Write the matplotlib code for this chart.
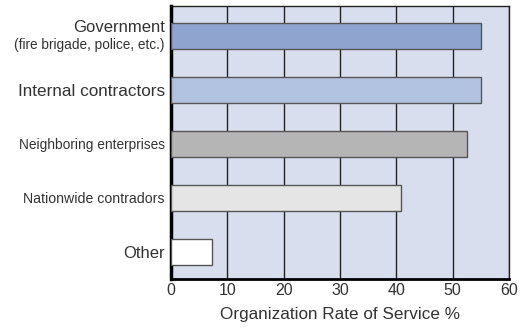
import matplotlib.pyplot as plt

# data
categories = ["Government", "Internal contractors", "Neighboring enterprises",
              "Nationwide contradors", "Other"]
sub_label = "(fire brigade, police, etc.)"
rates = [55.0, 55.0, 52.5, 40.8, 7.3]
bar_colors = ["#8FA5D0", "#B2C3E1", "#B5B5B5", "#E5E5E5", "#FFFFFF"]
label_sizes = [12.0, 12.3, 9.9, 10.2, 12.0]
xticks = [0, 10, 20, 30, 40, 50, 60]

plt.rcParams['font.family'] = ['Liberation Sans', 'DejaVu Sans']

fig = plt.figure(figsize=(5.23, 3.27), dpi=100)
ax = fig.add_axes([0.327, 0.147, 0.646, 0.835])
ax.set_facecolor("#D9DEEF")

ypos = list(range(len(categories)))
ax.barh(ypos, rates, height=0.48, color=bar_colors, edgecolor="#555555",
        linewidth=1.0, zorder=3)

ax.set_xlim(0, 60)
ax.set_ylim(4.5, -0.55)
ax.set_xticks(xticks)
ax.set_xticklabels([str(t) for t in xticks], fontsize=11.5, color="#333333")
ax.set_yticks(ypos)
# first category gets a two-line label drawn separately below
ax.set_yticklabels([""] + categories[1:], color="#333333")
for lbl, fs in zip(ax.get_yticklabels(), label_sizes):
    lbl.set_fontsize(fs)
ax.tick_params(axis='both', length=0)
ax.tick_params(axis='y', pad=4.5)
ax.tick_params(axis='x', pad=3)

trans = ax.get_yaxis_transform()
ax.annotate(categories[0], xy=(0, 0), xycoords=trans, xytext=(-4.5, 6),
            textcoords='offset points', ha='right', va='center',
            fontsize=label_sizes[0], color="#333333")
ax.annotate(sub_label, xy=(0, 0), xycoords=trans, xytext=(-4.5, -6.5),
            textcoords='offset points', ha='right', va='center',
            fontsize=9.8, color="#333333")

ax.grid(axis='x', color="#222222", linewidth=1.0, zorder=1)
ax.set_axisbelow(True)
for side in ['top', 'right']:
    ax.spines[side].set_linewidth(1.0)
    ax.spines[side].set_color("#222222")
ax.spines['left'].set_linewidth(2.5)
ax.spines['left'].set_color("black")
ax.spines['bottom'].set_linewidth(2.0)
ax.spines['bottom'].set_color("black")

ax.set_xlabel("Organization Rate of Service %", fontsize=12.3, color="#333333",
              labelpad=6.5)

fig.savefig("out.png", dpi=100)
